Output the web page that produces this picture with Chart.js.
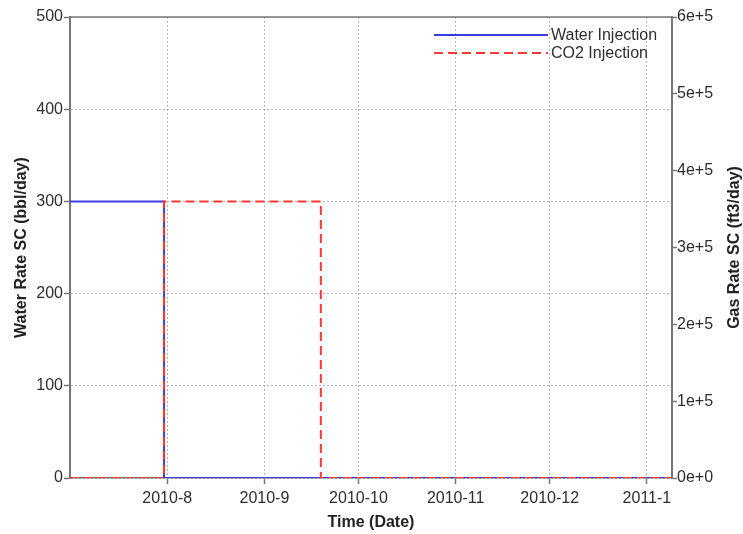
<!DOCTYPE html>
<html>
<head>
<meta charset="utf-8">
<script src="https://cdn.jsdelivr.net/npm/chart.js@4.4.0/dist/chart.umd.min.js"></script>
<style>
html, body { margin: 0; padding: 0; background: #fff; }
#wrap { width: 743px; height: 534px; }
</style>
</head>
<body>
<div id="wrap"><canvas id="rateChart" width="743" height="534"></canvas></div>
<script>
// chart data
const startDate = '2010-07-01';
const endDate = '2011-01-09';
const monthTicks = ['2010-08-01', '2010-09-01', '2010-10-01', '2010-11-01', '2010-12-01', '2011-01-01'];
const monthLabels = ['2010-8', '2010-9', '2010-10', '2010-11', '2010-12', '2011-1'];

const waterDates = ['2010-07-01', '2010-07-31', '2010-07-31', '2011-01-09'];
const waterRates = [300, 300, 0, 0];

const co2Dates = ['2010-07-01', '2010-07-31', '2010-07-31', '2010-09-19', '2010-09-19', '2011-01-09'];
const co2Rates = [0, 0, 360000, 360000, 0, 0];

const waterTicks = [0, 100, 200, 300, 400, 500];
const gasTicks = [0, 100000, 200000, 300000, 400000, 500000, 600000];

// days since start, used as x values
function day(s) {
    return (Date.parse(s) - Date.parse(startDate)) / 864e5;
}

const FONT = "'Liberation Sans', Arial, sans-serif";
const TEXT = '#2e2e2e';
const AXIS = '#777';
const GRID = '#b5b5b5';

Chart.defaults.font.family = FONT;
Chart.defaults.font.size = 16;
Chart.defaults.color = TEXT;

// top frame line, right axis title (reads bottom to top) and legend inside the plot
const extras = {
    id: 'extras',
    afterDraw(chart) {
        const ctx = chart.ctx;
        const a = chart.chartArea;
        ctx.save();
        ctx.strokeStyle = AXIS;
        ctx.lineWidth = 1.5;
        ctx.beginPath();
        ctx.moveTo(a.left, a.top);
        ctx.lineTo(a.right, a.top);
        ctx.stroke();

        ctx.save();
        ctx.translate(a.right + 63, (a.top + a.bottom) / 2);
        ctx.rotate(-Math.PI / 2);
        ctx.font = 'bold 16px ' + FONT;
        ctx.fillStyle = '#222';
        ctx.textAlign = 'center';
        ctx.textBaseline = 'middle';
        ctx.fillText('Gas Rate SC (ft3/day)', 0, 0);
        ctx.restore();

        chart.data.datasets.forEach((ds, i) => {
            const y = a.top + 18 + i * 18;
            ctx.strokeStyle = ds.borderColor;
            ctx.lineWidth = ds.borderWidth;
            ctx.setLineDash(ds.borderDash || []);
            ctx.beginPath();
            ctx.moveTo(a.right - 238, y);
            ctx.lineTo(a.right - 124, y);
            ctx.stroke();
            ctx.setLineDash([]);
            ctx.font = '16px ' + FONT;
            ctx.fillStyle = TEXT;
            ctx.textAlign = 'left';
            ctx.textBaseline = 'middle';
            ctx.fillText(ds.label, a.right - 121, y + 1);
        });
        ctx.restore();
    }
};

const ctx = document.getElementById('rateChart').getContext('2d');

const rateChart = new Chart(ctx, {
    type: 'line',
    data: {
        datasets: [{
            label: 'Water Injection',
            data: waterDates.map((d, i) => ({ x: day(d), y: waterRates[i] })),
            yAxisID: 'y',
            borderColor: '#3c3ce6',
            borderWidth: 2,
            pointRadius: 0,
            tension: 0,
            order: 1
        }, {
            label: 'CO2 Injection',
            data: co2Dates.map((d, i) => ({ x: day(d), y: co2Rates[i] })),
            yAxisID: 'y2',
            borderColor: '#ff3838',
            borderWidth: 2,
            borderDash: [9, 5],
            pointRadius: 0,
            tension: 0,
            order: 0
        }]
    },
    plugins: [extras],
    options: {
        responsive: false,
        animation: false,
        layout: { padding: { top: 17, left: 0, right: 0, bottom: 0 } },
        plugins: {
            legend: { display: false },
            tooltip: { enabled: false }
        },
        scales: {
            x: {
                type: 'linear',
                min: day(startDate),
                max: day(endDate),
                afterBuildTicks: s => { s.ticks = monthTicks.map(d => ({ value: day(d) })); },
                afterFit: s => { s.height = 56; },
                ticks: {
                    autoSkip: false,
                    maxRotation: 0,
                    padding: 5,
                    color: TEXT,
                    callback: (v, i) => monthLabels[i]
                },
                grid: { color: GRID, lineWidth: 1, tickColor: AXIS, tickLength: 6, tickWidth: 1.5 },
                border: { color: AXIS, width: 1.5, dash: [2, 2] },
                title: {
                    display: true,
                    text: 'Time (Date)',
                    color: '#222',
                    font: { weight: 'bold', size: 16 },
                    padding: { top: 0, bottom: 2 }
                }
            },
            y: {
                position: 'left',
                min: 0,
                max: 500,
                afterBuildTicks: s => { s.ticks = waterTicks.map(v => ({ value: v })); },
                afterFit: s => { s.width = 70; },
                ticks: { padding: 1, color: TEXT },
                grid: { color: GRID, lineWidth: 1, tickColor: AXIS, tickLength: 6, tickWidth: 1.5 },
                border: { color: AXIS, width: 2, dash: [2, 2] },
                title: {
                    display: true,
                    text: 'Water Rate SC (bbl/day)',
                    color: '#222',
                    font: { weight: 'bold', size: 16 },
                    padding: { top: 12, bottom: 0 }
                }
            },
            y2: {
                position: 'right',
                min: 0,
                max: 600000,
                afterBuildTicks: s => { s.ticks = gasTicks.map(v => ({ value: v })); },
                afterFit: s => { s.width = 71; },
                ticks: {
                    padding: 0,
                    color: TEXT,
                    callback: v => Number(v).toExponential(0)
                },
                grid: { drawOnChartArea: false, tickColor: AXIS, tickLength: 5, tickWidth: 1.5 },
                border: { color: AXIS, width: 2 }
            }
        }
    }
});
</script>
</body>
</html>
